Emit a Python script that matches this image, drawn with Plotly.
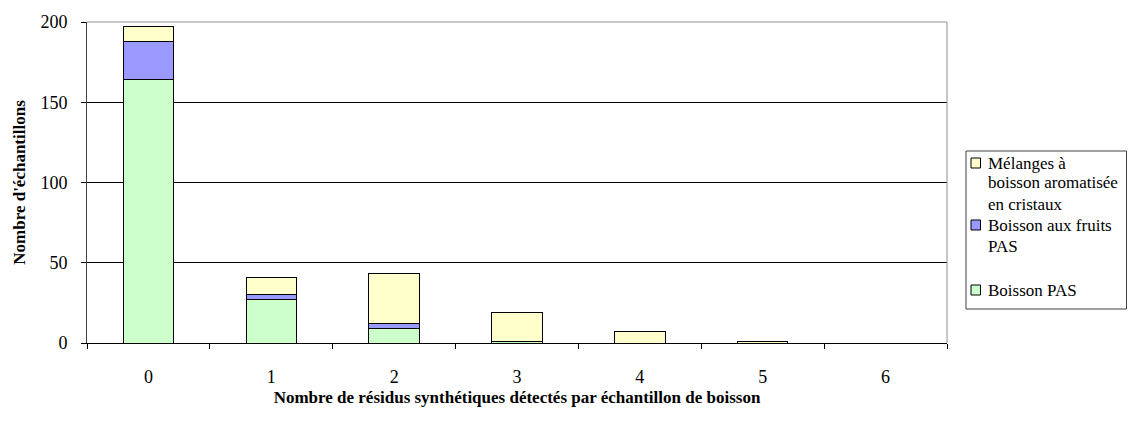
import plotly.graph_objects as go

# Number of synthetic residues detected per sample (x categories)
categories = ["0", "1", "2", "3", "4", "5", "6"]

# Sample counts per beverage type
boisson_pas = [164, 27, 9, 1, 0, 0, 0]
boisson_fruits_pas = [24, 3, 3, 0, 0, 0, 0]
melanges_cristaux = [9, 11, 31, 18, 7, 1, 0]

series_names = ["Boisson PAS", "Boisson aux fruits PAS", "Mélanges à boisson aromatisée en cristaux"]
series_colors = ["#CCFFCC", "#9999FF", "#FFFFCC"]
series_values = [boisson_pas, boisson_fruits_pas, melanges_cristaux]

# Legend text, wrapped line by line (same order as the series)
legend_lines = [
    ["Boisson PAS"],
    ["Boisson aux fruits", "PAS"],
    ["Mélanges à", "boisson aromatisée", "en cristaux"],
]

y_ticks = [0, 50, 100, 150, 200]

font_family = "Liberation Serif"

# Plot area in pixels, used to place the legend box beside it
PLOT_L, PLOT_R, PLOT_T, PLOT_B = 87, 947, 22, 343


def px_x(px):
    return (px - PLOT_L) / (PLOT_R - PLOT_L)


def px_y(py):
    return (PLOT_B - py) / (PLOT_B - PLOT_T)


fig = go.Figure()
for name, color, values in zip(series_names, series_colors, series_values):
    fig.add_trace(go.Bar(
        x=categories,
        y=values,
        name=name,
        showlegend=False,
        marker=dict(color=color, line=dict(color="black", width=1)),
    ))

fig.update_layout(
    barmode="stack",
    bargap=0.59,
    width=1128,
    height=421,
    margin=dict(l=PLOT_L, r=1128 - PLOT_R, t=PLOT_T, b=421 - PLOT_B, autoexpand=False),
    paper_bgcolor="white",
    plot_bgcolor="white",
    font=dict(family=font_family, size=18, color="black"),
    xaxis=dict(
        type="category",
        showline=True, linecolor="black", linewidth=1,
        ticks="outside", tickson="boundaries", ticklen=5, tickcolor="black",
        ticklabelstandoff=17,
        showgrid=False,
        title=dict(
            text="<b>Nombre de résidus synthétiques détectés par échantillon de boisson</b>",
            font=dict(family=font_family, size=17),
            standoff=5,
        ),
    ),
    yaxis=dict(
        range=[0, 200],
        tickvals=y_ticks,
        showline=True, linecolor="#404040", linewidth=1,
        ticks="outside", ticklen=5, tickcolor="black",
        ticklabelstandoff=10,
        showgrid=True, gridcolor="black", gridwidth=1,
        zeroline=False,
        title=dict(
            text="<b>Nombre d'échantillons</b>",
            font=dict(family=font_family, size=17),
            standoff=10,
        ),
    ),
)

# Plot-area frame on the top and right edges
fig.add_shape(type="line", xref="paper", yref="paper", x0=0, x1=1, y0=1, y1=1,
              line=dict(color="#909090", width=1), layer="above")
fig.add_shape(type="line", xref="paper", yref="paper", x0=1, x1=1, y0=0, y1=1,
              line=dict(color="#909090", width=1), layer="above")

# Legend box
fig.add_shape(type="rect", xref="paper", yref="paper",
              x0=px_x(966), x1=px_x(1126.5), y0=px_y(309), y1=px_y(151),
              line=dict(color="#404040", width=1), fillcolor="white", layer="above")

# Legend entries: swatch centre and text line centres (pixels)
swatch_y = [290, 225, 163]
line_y = [[290], [225, 246], [163, 183, 204]]
for color, lines, sy, ys in zip(series_colors, legend_lines, swatch_y, line_y):
    fig.add_shape(type="rect", xref="paper", yref="paper",
                  x0=px_x(971), x1=px_x(980.5), y0=px_y(sy + 5), y1=px_y(sy - 5),
                  line=dict(color="black", width=1), fillcolor=color, layer="above")
    for text, ty in zip(lines, ys):
        fig.add_annotation(x=px_x(987), y=px_y(ty), xref="paper", yref="paper",
                           text=text, showarrow=False, xanchor="left", yanchor="middle",
                           borderpad=0,
                           font=dict(family=font_family, size=17, color="black"))

fig.write_html("out.html")
